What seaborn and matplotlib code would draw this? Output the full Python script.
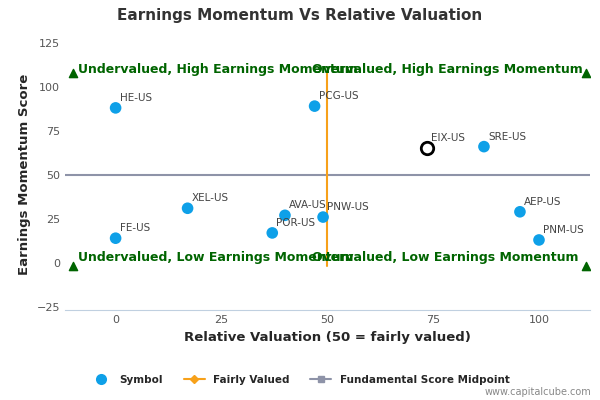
import matplotlib
matplotlib.use("Agg")
import matplotlib.pyplot as plt
import seaborn as sns
import pandas as pd
from matplotlib.lines import Line2D

symbols = ["HE-US", "PCG-US", "EIX-US", "SRE-US", "XEL-US", "AVA-US", "PNW-US", "POR-US", "FE-US", "AEP-US", "PNM-US"]
valuation = [0, 47, 73.5, 87, 17, 40, 49, 37, 0, 95.5, 100]
momentum = [88, 89, 65, 66, 31, 27, 26, 17, 14, 29, 13]
highlight = "EIX-US"
x_ticks = [0, 25, 50, 75, 100]
y_ticks = [-25, 0, 25, 50, 75, 100, 125]

df = pd.DataFrame({"symbol": symbols, "x": valuation, "y": momentum})
sns.set_style("white")
fig = plt.figure(figsize=(6, 4), dpi=100)
ax = fig.add_axes([0.108, 0.224, 0.875, 0.678])

ax.axhline(50, color="#8e93a8", lw=1.5, zorder=1)
ax.plot([50, 50], [-2, 108], color="#f7a11a", lw=1.5, zorder=1)
others = df[df.symbol != highlight]
sns.scatterplot(data=others, x="x", y="y", ax=ax, color="#0ea0e8", s=70, edgecolor="none", zorder=3, legend=False)
hi = df[df.symbol == highlight]
ax.scatter(hi.x, hi.y, s=80, facecolor="white", edgecolor="black", lw=2, zorder=4)
for s, x, y in zip(symbols, valuation, momentum):
    ax.annotate(s, (x, y), xytext=(3, 5), textcoords="offset points", fontsize=7.5, color="#444444")

green = "#006400"
for tx, ty in [(-10, 108), (111, 108), (-10, -2), (111, -2)]:
    ax.scatter([tx], [ty], marker="^", color=green, s=35, zorder=3)
fs = 9
ax.text(-9, 110, "Undervalued, High Earnings Momentum", color=green, fontsize=fs, fontweight="bold", va="center")
ax.text(46.5, 110, "Overvalued, High Earnings Momentum", color=green, fontsize=fs, fontweight="bold", va="center")
ax.text(-9, 3, "Undervalued, Low Earnings Momentum", color=green, fontsize=fs, fontweight="bold", va="center")
ax.text(46.5, 3, "Overvalued, Low Earnings Momentum", color=green, fontsize=fs, fontweight="bold", va="center")

ax.set_xlim(-12, 112)
ax.set_ylim(-27, 127)
ax.set_xticks(x_ticks)
ax.set_yticks(y_ticks)
ax.tick_params(labelsize=8, colors="#555555", length=0)
for sp in ["top", "right", "left"]:
    ax.spines[sp].set_visible(False)
ax.spines["bottom"].set_color("#c0d0e0")
ax.set_xlabel("Relative Valuation (50 = fairly valued)", fontsize=9.5, fontweight="bold")
ax.set_ylabel("Earnings Momentum Score", fontsize=9.5, fontweight="bold")
fig.suptitle("Earnings Momentum Vs Relative Valuation", fontsize=11, fontweight="bold", color="#333333", y=0.98)

handles = [Line2D([], [], marker="o", color="none", markerfacecolor="#0ea0e8", markeredgecolor="none", markersize=8),
           Line2D([], [], marker="D", color="#f7a11a", markersize=4),
           Line2D([], [], marker="s", color="#8e93a8", markersize=5)]
fig.legend(handles, ["Symbol", "Fairly Valued", "Fundamental Score Midpoint"], loc="lower center",
           bbox_to_anchor=(0.5, 0.015), ncol=3, frameon=False, prop={"size": 7.5, "weight": "bold"})
fig.text(0.985, 0.012, "www.capitalcube.com", ha="right", fontsize=7, color="#888888")
fig.savefig("out.png", dpi=100)
